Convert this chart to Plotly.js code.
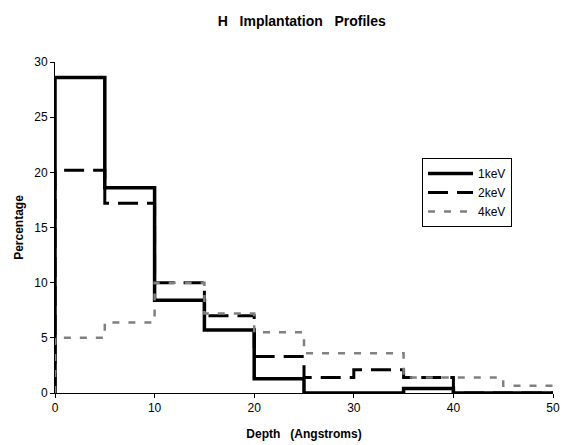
<!DOCTYPE html>
<html>
<head>
<meta charset="utf-8">
<script src="https://cdn.plot.ly/plotly-3.0.1.min.js"></script>
<style>html,body{margin:0;padding:0;background:#fff;}#chart{width:562px;height:445px;}</style>
</head>
<body>
<div id="chart"></div>
<script>
// Bin edges (Angstroms) and percentages per 5 Å bin
const binEdges = [0, 5, 10, 15, 20, 25, 30, 35, 40, 45, 50];
const series1keV = [28.6, 18.6, 8.4, 5.7, 1.3, 0, 0, 0.4, 0, 0];
const series2keV = [20.2, 17.2, 10.0, 7.0, 3.3, 1.4, 2.1, 1.4, 0, 0];
const series4keV = [5.0, 6.4, 10.0, 7.2, 5.5, 3.6, 3.6, 1.4, 1.4, 0.65];
const seriesNames = ['1keV', '2keV', '4keV'];

function stepXY(vals) {
  const x = [binEdges[0]].concat(binEdges);
  const y = [0].concat(vals).concat([vals[vals.length - 1]]);
  return {x, y};
}

const styles = [
  {color: '#000', width: 3.5, dash: 'solid'},
  {color: '#000', width: 3, dash: '20px,9px'},
  {color: '#808080', width: 2.5, dash: '7px,9px'}
];

const traces = [series1keV, series2keV, series4keV].map((v, i) => {
  const s = stepXY(v);
  return {
    x: s.x, y: s.y, type: 'scatter', mode: 'lines',
    line: {shape: 'hv', color: styles[i].color, width: styles[i].width, dash: styles[i].dash},
    name: seriesNames[i]
  };
});

const fam = 'Liberation Sans, Arial, sans-serif';
const nb = '\u00a0';
const layout = {
  width: 562, height: 445,
  margin: {l: 55, r: 9, t: 62, b: 52},
  paper_bgcolor: '#fff', plot_bgcolor: '#fff',
  font: {family: fam, color: '#000', size: 12},
  showlegend: true,
  title: {text: '<b>H' + nb + nb + nb + 'Implantation' + nb + nb + nb + 'Profiles</b>', x: 0.537, xanchor: 'center', y: 0.953, yanchor: 'middle', font: {family: fam, size: 14, color: '#000'}},
  xaxis: {
    range: [0, 50], tickvals: [0, 10, 20, 30, 40, 50], showgrid: false, zeroline: false,
    showline: true, linecolor: '#000', linewidth: 1, ticks: 'outside', ticklen: 4, tickcolor: '#000',
    tickfont: {family: fam, size: 12, color: '#000'},
    title: {text: '<b>Depth' + nb + nb + nb + '(Angstroms)</b>', font: {family: fam, size: 12, color: '#000'}, standoff: 15}
  },
  yaxis: {
    range: [0, 30], tickvals: [0, 5, 10, 15, 20, 25, 30], showgrid: false, zeroline: false,
    showline: true, linecolor: '#000', linewidth: 1, ticks: 'outside', ticklen: 4, tickcolor: '#000',
    tickfont: {family: fam, size: 12, color: '#000'},
    title: {text: '<b>Percentage</b>', font: {family: fam, size: 12, color: '#000'}, standoff: 8}
  },
  legend: {
    x: 0.737, y: 0.71, xanchor: 'left', yanchor: 'top',
    bgcolor: '#fff', bordercolor: '#000', borderwidth: 1,
    font: {family: fam, size: 12, color: '#000'},
    tracegroupgap: 0, itemwidth: 45
  }
};

Plotly.newPlot('chart', traces, layout, {displayModeBar: false, staticPlot: true});
</script>
</body>
</html>
